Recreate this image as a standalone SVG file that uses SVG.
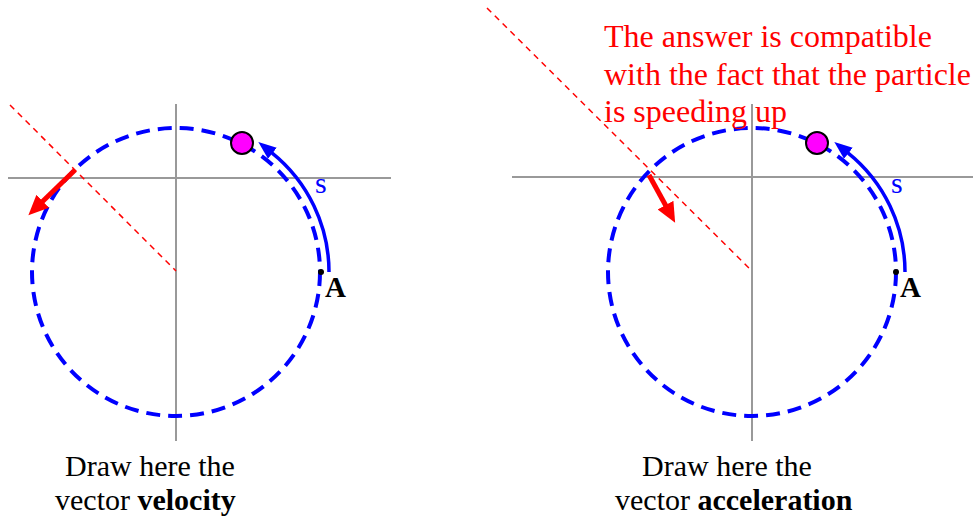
<svg xmlns="http://www.w3.org/2000/svg" width="973" height="524" viewBox="0 0 973 524">
<style>
.axis{stroke:#999;stroke-width:2;fill:none}
.circ{stroke:#0000ff;stroke-width:4;fill:none;stroke-dasharray:14 8}
.radial{stroke:#ff0000;stroke-width:1.5;fill:none;stroke-dasharray:6 5}
.arc{stroke:#0000ff;stroke-width:3.5;fill:none}
.vec{stroke:#ff0000;stroke-width:5;fill:none}
.ball{fill:#ff00ff;stroke:#000;stroke-width:2}
.t{font-family:"Liberation Serif","Times New Roman",serif;fill:#000}
.lbl{font-size:30px}
.red{font-size:32px;fill:#ff0000}
.s{font-size:30px;fill:#0000ff}
.A{font-size:29px;font-weight:bold}
</style>
<defs>
<marker id="blueHead" viewBox="0 -8 20 16" markerWidth="20" markerHeight="16" refX="1" refY="0" orient="auto" markerUnits="userSpaceOnUse">
<path d="M0,-7 L18,0 L0,7 z" fill="#0000ff"/>
</marker>
<marker id="redHead" viewBox="0 -10 22 20" markerWidth="22" markerHeight="20" refX="1" refY="0" orient="auto" markerUnits="userSpaceOnUse">
<path d="M0,-9 L20,0 L0,9 z" fill="#ff0000"/>
</marker>
</defs>

<g id="left-diagram">
<g id="left-axes">
<line class="axis" x1="176" y1="104" x2="176" y2="441"/>
<line class="axis" x1="8" y1="178" x2="391" y2="178"/>
</g>
<circle id="left-path" class="circ" cx="176" cy="272" r="144"/>
<g id="left-point-A">
<circle cx="321" cy="272" r="3" fill="#000"/>
<text class="t A" x="325" y="297">A</text>
</g>
<text id="left-s" class="t s" x="315" y="193">s</text>
<circle id="left-particle" class="ball" cx="242" cy="143" r="11"/>
</g>

<g id="right-diagram">
<g id="right-axes">
<line class="axis" x1="752" y1="104" x2="752" y2="441"/>
<line class="axis" x1="512" y1="177" x2="973" y2="177"/>
</g>
<circle id="right-path" class="circ" cx="752" cy="272" r="144"/>
<g id="right-point-A">
<circle cx="896" cy="272" r="3" fill="#000"/>
<text class="t A" x="900" y="297">A</text>
</g>
<text id="right-s" class="t s" x="891" y="193">s</text>
<circle id="right-particle" class="ball" cx="817" cy="143" r="11"/>
</g>

<g id="connectors">
<line class="radial" x1="10" y1="105" x2="176" y2="271"/>
<line class="radial" x1="487" y1="8" x2="752" y2="271"/>
<path class="arc" d="M329,272 A153,153 0 0,0 271.6,152.6" marker-end="url(#blueHead)"/>
<path class="arc" d="M905,272 A153,153 0 0,0 847.6,152.6" marker-end="url(#blueHead)"/>
<line class="vec" x1="75" y1="170" x2="42" y2="202" marker-end="url(#redHead)"/>
<line class="vec" x1="649" y1="175" x2="666" y2="206" marker-end="url(#redHead)"/>
</g>

<g id="note">
<text class="t red" x="604" y="47">The answer is compatible</text>
<text class="t red" x="604" y="85">with the fact that the particle</text>
<text class="t red" x="604" y="122">is speeding up</text>
</g>

<g id="caption-left">
<text class="t lbl" x="65" y="476">Draw here the</text>
<text class="t lbl" x="55" y="510">vector <tspan font-weight="bold">velocity</tspan></text>
</g>
<g id="caption-right">
<text class="t lbl" x="642" y="476">Draw here the</text>
<text class="t lbl" x="615" y="510">vector <tspan font-weight="bold">acceleration</tspan></text>
</g>
</svg>
